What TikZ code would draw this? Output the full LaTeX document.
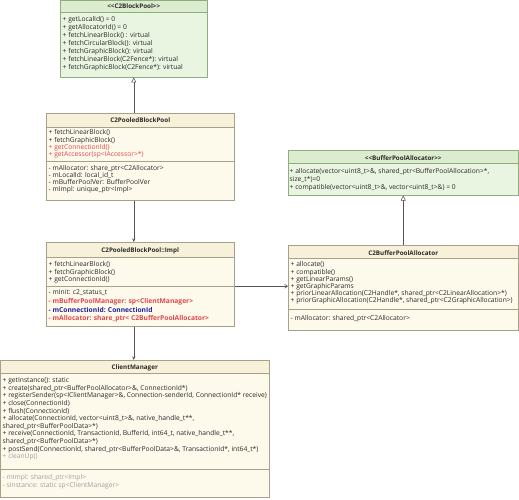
\documentclass[tikz,border=0pt]{standalone}
\usepackage{fontspec}
\setmainfont{Open Sans}
\usetikzlibrary{arrows.meta,calc}
\definecolor{gfill}{HTML}{E9F4E1}
\definecolor{ghead}{HTML}{DCEDCF}
\definecolor{gborder}{HTML}{8FAE80}
\definecolor{yfill}{HTML}{FDFAEC}
\definecolor{yhead}{HTML}{F7F1DA}
\definecolor{yborder}{HTML}{A8A08A}
\definecolor{txt}{HTML}{2A2A2A}
\definecolor{redt}{HTML}{E2474D}
\definecolor{bluet}{HTML}{1E1E9C}
\definecolor{grayt}{HTML}{A0A0A0}
\definecolor{linec}{HTML}{555555}
\newcommand{\ltlt}{<\kern0pt<}
\newcommand{\gtgt}{>\kern0pt>}
\begin{document}
\begin{tikzpicture}[x=1pt,y=-1pt,
  ifacebox/.style={draw=gborder,fill=gfill,line width=0.5pt,inner sep=0,anchor=north west},
  classbox/.style={draw=yborder,fill=yfill,line width=0.5pt,inner sep=0,anchor=north west},
  hdr/.style={font=\bfseries\fontsize{6.3}{7}\selectfont,text=txt,inner sep=0},
  mbody/.style={font=\fontsize{6.7}{#1}\selectfont,align=left,anchor=north west,inner sep=0,text=txt},
  inherit/.style={draw=linec,line width=0.5pt,-{Triangle[open,length=5pt,width=5pt]}},
  assoc/.style={draw=linec,line width=0.5pt,-{Stealth[length=3.5pt,width=3pt]}},
  openarr/.style={draw=linec,line width=0.5pt,-{Straight Barb[length=3pt,width=4pt]}}
]
\useasboundingbox (0,0) rectangle (519,500);

% ---------- C2BlockPool ----------
\node[ifacebox,minimum width=147pt,minimum height=77pt] (bp) at (60,0) {};
\filldraw[fill=ghead,draw=gborder,line width=0.5pt] (bp.north west) rectangle ($(bp.north east)+(0,12)$);
\node[hdr] (bph) at ($(bp.north)+(0,6)$) {\ltlt C2BlockPool\gtgt};
\node[mbody=8.1] (bpm) at ($(bp.north west)+(2.5,15.8)$) {+ getLocalId() = 0\\
+ getAllocatorId() = 0\\
+ fetchLinearBlock() : virtual\\
+ fetchCircularBlock(): virtual\\
+ fetchGraphicBlock(): virtual\\
+ fetchLinearBlock(C2Fence*): virtual\\
+ fetchGraphicBlock(C2Fence*): virtual};

% ---------- C2PooledBlockPool ----------
\node[classbox,minimum width=188pt,minimum height=87pt] (pp) at (46,113) {};
\filldraw[fill=yhead,draw=yborder,line width=0.5pt] (pp.north west) rectangle ($(pp.north east)+(0,14)$);
\draw[yborder,line width=0.5pt] ($(pp.north west)+(0,48)$) -- ($(pp.north east)+(0,48)$);
\node[hdr] (pph) at ($(pp.north)+(0,7)$) {C2PooledBlockPool};
\node[mbody=7.4] (ppm) at ($(pp.north west)+(2.5,16.4)$) {+ fetchLinearBlock()\\
+ fetchGraphicBlock()\\
\textcolor{redt}{+ getConnectionId()}\\
\textcolor{redt}{+ getAccessor(sp<IAccessor>*)}};
\node[mbody=7] (ppa) at ($(pp.north west)+(2.5,52.6)$) {- mAllocator:  share\_ptr<C2Allocator>\\
- mLocalId:  local\_id\_t\\
- mBufferPoolVer:  BufferPoolVer\\
- mImpl:  unique\_ptr<Impl>};

% ---------- C2PooledBlockPool::Impl ----------
\node[classbox,minimum width=188pt,minimum height=84pt] (im) at (46,242) {};
\filldraw[fill=yhead,draw=yborder,line width=0.5pt] (im.north west) rectangle ($(im.north east)+(0,15)$);
\draw[yborder,line width=0.5pt] ($(im.north west)+(0,44)$) -- ($(im.north east)+(0,44)$);
\node[hdr] (imh) at ($(im.north)+(0,8.5)$) {C2PooledBlockPool::Impl};
\node[mbody=7.3] (imm) at ($(im.north west)+(2.5,19.6)$) {+ fetchLinearBlock()\\
+ fetchGraphicBlock()\\
+ getConnectionId()};
\node[mbody=8.7] (ima) at ($(im.north west)+(2.5,47.6)$) {- mInit:  c2\_status\_t\\
\textcolor{redt}{\bfseries - mBufferPoolManager:  sp<ClientManager>}\\
\textcolor{bluet}{\bfseries - mConnectionId:  ConnectionId}\\
\textcolor{redt}{\bfseries - mAllocator:  share\_ptr< C2BufferPoolAllocator>}};

% ---------- BufferPoolAllocator ----------
\node[ifacebox,minimum width=230pt,minimum height=45pt] (ba) at (288,150) {};
\filldraw[fill=ghead,draw=gborder,line width=0.5pt] (ba.north west) rectangle ($(ba.north east)+(0,13.5)$);
\node[hdr] (bah) at ($(ba.north)+(0,8)$) {\ltlt BufferPoolAllocator\gtgt};
\node[mbody=7.9] (bam) at ($(ba.north west)+(1.5,18.2)$) {+ allocate(vector<uint8\_t>\&, shared\_ptr<BufferPoolAllocation>*,\\
size\_t*)=0\\
+ compatible(vector<uint8\_t>\&, vector<uint8\_t>\&) = 0};

% ---------- C2BufferPoolAllocator ----------
\node[classbox,minimum width=230pt,minimum height=85pt] (ca) at (288,245) {};
\filldraw[fill=yhead,draw=yborder,line width=0.5pt] (ca.north west) rectangle ($(ca.north east)+(0,13.5)$);
\draw[yborder,line width=0.5pt] ($(ca.north west)+(0,64.5)$) -- ($(ca.north east)+(0,64.5)$);
\node[hdr] (cah) at ($(ca.north)+(0,8)$) {C2BufferPoolAllocator};
\node[mbody=7.15] (cam) at ($(ca.north west)+(2.5,16.6)$) {+ allocate()\\
+ compatible()\\
+ getLinearParams()\\
+ getGraphicParams\\
+ priorLinearAllocation(C2Handle*, shared\_ptr<C2LinearAllocation>*)\\
+ priorGraphicAllocation(C2Handle*, shared\_ptr<C2GraphicAllocation>)};
\node[mbody=7.2] (caa) at ($(ca.north west)+(2.5,70.6)$) {- mAllocator: shared\_ptr<C2Allocator>};

% ---------- ClientManager ----------
\node[classbox,minimum width=269pt,minimum height=137pt] (cm) at (0,360) {};
\filldraw[fill=yhead,draw=yborder,line width=0.5pt] (cm.north west) rectangle ($(cm.north east)+(0,13.5)$);
\draw[yborder,line width=0.5pt] ($(cm.north west)+(0,109)$) -- ($(cm.north east)+(0,109)$);
\node[hdr] (cmh) at ($(cm.north)+(0,7.5)$) {ClientManager};
\node[mbody=7.6] (cmm) at ($(cm.north west)+(2.5,17.6)$) {+ getInstance():  static\\
+ create(shared\_ptr<BufferPoolAllocator>\&, ConnectionId*)\\
+ registerSender(sp<IClientManager>\&, Connection-senderId, ConnectionId* receive)\\
+ close(ConnectionId)\\
+ flush(ConnectionId)\\
+ allocate(ConnectionId, vector<uint8\_t>\&, native\_handle\_t**,\\
shared\_ptr<BufferPoolData>*)\\
+ receive(ConnectionId, TransactionId, BufferId, int64\_t, native\_handle\_t**,\\
shared\_ptr<BufferPoolData>*)\\
+ postSend(ConnectionId, shared\_ptr<BufferPoolData>\&, TransactionId*, int64\_t*)\\
\textcolor{grayt}{+ cleanUp()}};
\node[mbody=8] (cma) at ($(cm.north west)+(2.5,114.6)$) {\textcolor{grayt}{- mImpl:  shared\_ptr<Impl>}\\
\textcolor{grayt}{- sInstance:  static sp<ClientManager>}};

% ---------- connectors ----------
\draw[inherit] (pp.north -| bp.south) -- (bp.south);
\draw[assoc] (pp.south -| bp.south) -- (im.north -| bp.south);
\draw[assoc] (im.south -| bp.south) -- (cm.north -| bp.south);
\draw[openarr] ($(im.east)+(0,2)$) -- ($(im.east -| ca.west)+(0,2)$);
\draw[inherit] (ca.north) -- (ca.north |- ba.south);
\end{tikzpicture}
\end{document}
